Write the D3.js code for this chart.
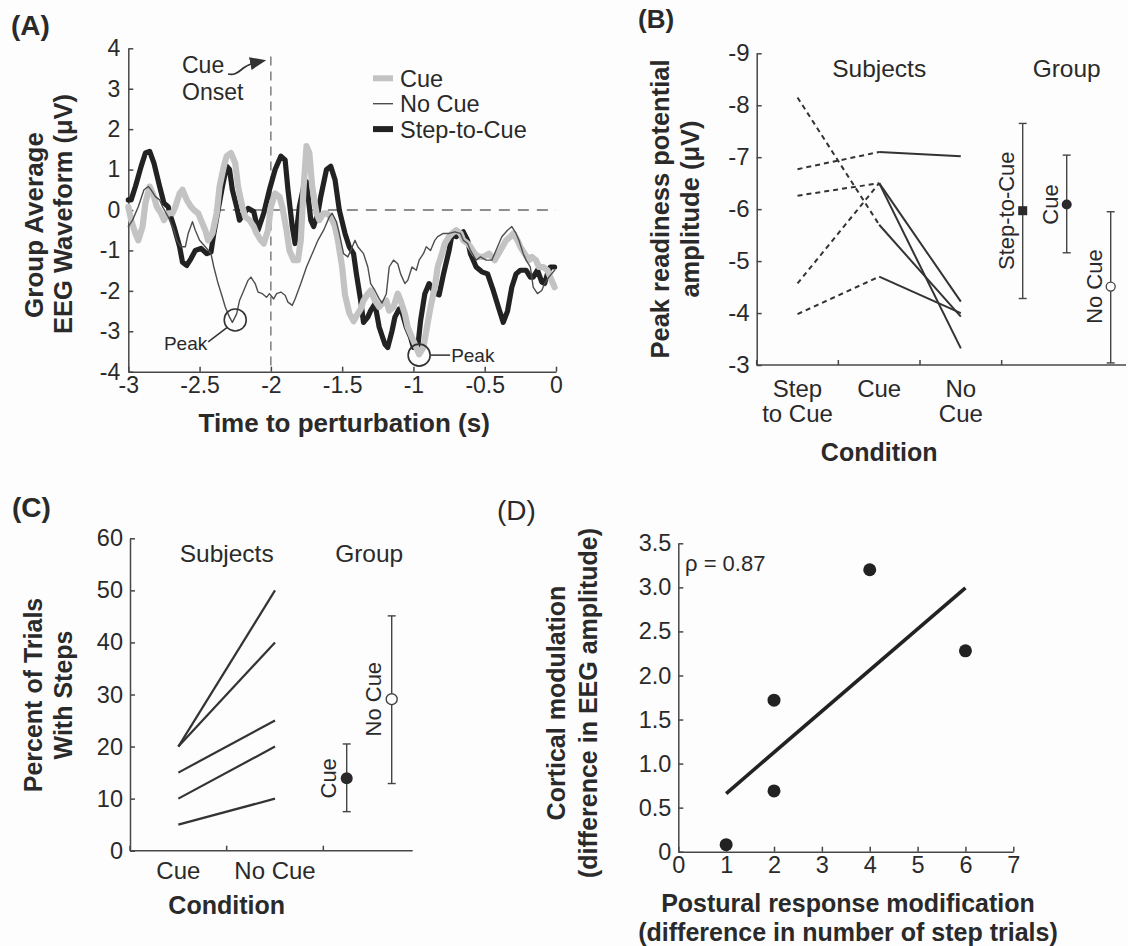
<!DOCTYPE html>
<html>
<head>
<meta charset="utf-8">
<script src="https://cdn.jsdelivr.net/npm/d3@7"></script>
<style>
  html, body { margin: 0; padding: 0; background: #fdfdfd; }
  svg { display: block; }
  text { font-family: 'Liberation Sans', Arial, Helvetica, sans-serif; }
</style>
</head>
<body>
<svg id="fig" width="1128" height="946"></svg>
<script>
// ---------- Panel A: group-average EEG waveforms (µV) vs time to perturbation (s) ----------
const timeTicks = [-3, -2.5, -2, -1.5, -1, -0.5, 0];
const eegTicks = [4, 3, 2, 1, 0, -1, -2, -3, -4];

const cueTime = [-3.00,-2.98,-2.95,-2.93,-2.90,-2.88,-2.85,-2.82,-2.80,-2.77,-2.75,-2.72,-2.69,-2.67,-2.64,-2.62,-2.59,-2.56,-2.54,-2.51,-2.49,-2.46,-2.44,-2.41,-2.38,-2.36,-2.33,-2.31,-2.28,-2.25,-2.23,-2.20,-2.18,-2.15,-2.12,-2.10,-2.07,-2.05,-2.02,-2.00,-1.97,-1.94,-1.92,-1.89,-1.87,-1.84,-1.81,-1.79,-1.77,-1.75,-1.73,-1.71,-1.68,-1.66,-1.63,-1.61,-1.58,-1.55,-1.53,-1.50,-1.48,-1.45,-1.42,-1.40,-1.37,-1.35,-1.32,-1.30,-1.27,-1.24,-1.22,-1.19,-1.17,-1.14,-1.11,-1.09,-1.06,-1.04,-1.01,-0.98,-0.96,-0.93,-0.91,-0.88,-0.85,-0.83,-0.80,-0.78,-0.75,-0.73,-0.70,-0.67,-0.65,-0.62,-0.60,-0.57,-0.54,-0.51,-0.47,-0.43,-0.39,-0.35,-0.32,-0.30,-0.27,-0.25,-0.22,-0.19,-0.17,-0.14,-0.12,-0.09,-0.06,-0.04,-0.01];
const cueEEG = [0.08,-0.25,-0.58,-0.75,-0.41,0.17,0.58,0.33,0.08,-0.08,-0.25,-0.08,-0.08,0.08,0.41,0.50,0.25,0.08,0.00,-0.08,-0.25,-0.50,-0.75,-0.58,-0.08,0.58,1.08,1.33,1.41,1.16,0.58,0.08,-0.17,-0.25,-0.41,-0.58,-0.75,-0.83,-0.50,0.08,0.41,0.33,0.08,-0.50,-1.00,-1.24,-1.24,-0.75,0.58,1.58,1.41,0.58,-0.08,-0.25,-0.08,-0.08,-0.17,-0.41,-0.75,-1.41,-2.10,-2.55,-2.75,-2.62,-2.45,-2.24,-2.07,-1.99,-2.24,-2.40,-2.32,-2.24,-2.49,-2.40,-2.07,-2.24,-2.57,-2.90,-3.15,-3.40,-3.57,-3.40,-2.99,-2.40,-1.91,-1.41,-1.08,-0.83,-0.66,-0.58,-0.50,-0.58,-0.75,-0.83,-0.91,-1.08,-1.16,-1.16,-1.08,-1.24,-1.00,-0.75,-0.66,-0.58,-0.75,-0.91,-1.08,-1.24,-1.16,-1.24,-1.41,-1.41,-1.49,-1.66,-1.91];

const noCueTime = [-3.00,-2.97,-2.93,-2.89,-2.86,-2.84,-2.81,-2.78,-2.76,-2.72,-2.68,-2.66,-2.63,-2.60,-2.58,-2.55,-2.53,-2.50,-2.46,-2.42,-2.40,-2.37,-2.34,-2.32,-2.29,-2.27,-2.24,-2.22,-2.19,-2.16,-2.14,-2.11,-2.09,-2.06,-2.03,-2.01,-1.98,-1.96,-1.93,-1.90,-1.88,-1.85,-1.83,-1.79,-1.75,-1.71,-1.67,-1.63,-1.59,-1.57,-1.54,-1.52,-1.49,-1.46,-1.44,-1.41,-1.39,-1.35,-1.32,-1.30,-1.27,-1.24,-1.22,-1.19,-1.17,-1.14,-1.11,-1.09,-1.06,-1.04,-1.01,-0.98,-0.96,-0.93,-0.91,-0.88,-0.85,-0.83,-0.79,-0.75,-0.71,-0.67,-0.65,-0.62,-0.60,-0.56,-0.53,-0.49,-0.45,-0.41,-0.38,-0.34,-0.31,-0.28,-0.26,-0.23,-0.21,-0.18,-0.16,-0.13,-0.10,-0.08,-0.05,-0.01];
const noCueEEG = [-0.41,-0.25,0.08,0.50,0.58,0.50,0.33,0.25,0.08,-0.17,-0.50,-0.75,-0.91,-0.91,-0.58,-0.29,-0.50,-0.75,-0.91,-1.08,-1.41,-1.82,-2.16,-2.40,-2.65,-2.78,-2.57,-2.24,-1.99,-1.74,-1.66,-1.82,-2.03,-2.07,-2.16,-2.07,-2.20,-2.07,-2.03,-2.11,-2.28,-2.36,-2.20,-1.82,-1.41,-1.08,-0.75,-0.50,-0.17,-0.08,-0.29,-0.58,-1.08,-1.16,-1.00,-0.75,-0.91,-1.08,-1.41,-1.82,-1.99,-2.20,-2.30,-2.07,-1.41,-1.24,-1.33,-1.58,-1.82,-1.74,-1.41,-1.49,-1.24,-1.08,-0.91,-1.00,-0.75,-0.66,-0.58,-0.58,-0.54,-0.58,-0.75,-0.83,-1.00,-1.24,-1.16,-1.24,-1.24,-0.91,-0.66,-0.50,-0.41,-0.58,-0.75,-1.08,-1.24,-1.41,-1.91,-2.07,-1.99,-1.82,-1.66,-1.49];

const stepTime = [-3.00,-2.98,-2.95,-2.91,-2.88,-2.85,-2.82,-2.78,-2.75,-2.72,-2.71,-2.68,-2.64,-2.62,-2.59,-2.56,-2.53,-2.49,-2.45,-2.42,-2.40,-2.34,-2.31,-2.29,-2.27,-2.24,-2.22,-2.19,-2.16,-2.12,-2.09,-2.05,-2.01,-1.97,-1.93,-1.90,-1.88,-1.85,-1.83,-1.80,-1.77,-1.75,-1.72,-1.70,-1.67,-1.65,-1.61,-1.58,-1.55,-1.52,-1.48,-1.45,-1.42,-1.40,-1.37,-1.35,-1.32,-1.30,-1.27,-1.24,-1.20,-1.18,-1.15,-1.13,-1.10,-1.08,-1.05,-1.02,-1.00,-0.97,-0.95,-0.92,-0.89,-0.85,-0.82,-0.79,-0.75,-0.73,-0.70,-0.67,-0.65,-0.62,-0.60,-0.56,-0.52,-0.48,-0.44,-0.40,-0.37,-0.34,-0.31,-0.28,-0.25,-0.21,-0.18,-0.16,-0.13,-0.10,-0.08,-0.06,-0.04,-0.01];
const stepEEG = [0.25,0.25,0.58,1.08,1.41,1.45,1.16,0.58,0.17,0.08,-0.08,-0.41,-0.91,-1.29,-1.37,-1.20,-1.00,-0.95,-1.08,-1.04,-0.58,0.58,1.08,1.00,0.50,0.08,-0.25,-0.08,0.04,-0.04,-0.50,-0.08,0.50,1.00,1.33,1.24,0.50,-0.41,-0.83,0.08,0.58,0.70,-0.25,-0.41,-0.08,0.33,1.00,1.08,0.75,0.00,-0.58,-0.91,-1.08,-1.58,-2.24,-2.78,-2.65,-2.49,-2.32,-2.90,-3.32,-3.40,-2.99,-2.65,-2.45,-2.53,-2.90,-3.15,-3.40,-3.40,-2.74,-2.07,-1.82,-2.05,-2.10,-1.60,-1.00,-0.62,-0.66,-0.58,-0.54,-0.75,-1.08,-1.41,-1.53,-1.58,-1.99,-2.45,-2.78,-2.50,-1.91,-1.58,-1.49,-1.49,-1.66,-1.66,-1.49,-1.78,-1.82,-1.58,-1.41,-1.41];

const eegLegend = ["Cue", "No Cue", "Step-to-Cue"];
const peakTimes = [-2.25, -0.96];
const peakValues = [-2.72, -3.59];

// ---------- Panel B: peak readiness potential amplitude (µV) ----------
const rpConditions = ["Step to Cue", "Cue", "No Cue", "Group"];
const rpConditionLines = [["Step", "to Cue"], ["Cue"], ["No", "Cue"]];
const rpTicks = [-9, -8, -7, -6, -5, -4, -3];
const rpStepToCue = [-8.15, -6.77, -6.26, -4.57, -3.98];
const rpCue = [-5.70, -7.10, -6.50, -6.50, -4.70];
const rpNoCue = [-3.93, -7.02, -4.22, -3.32, -4.00];
const rpGroupLabels = ["Step-to-Cue", "Cue", "No Cue"];
const rpGroupMean = [-5.97, -6.09, -4.51];
const rpGroupTop = [-7.65, -7.04, -5.95];
const rpGroupBottom = [-4.28, -5.16, -3.04];

// ---------- Panel C: percent of trials with steps ----------
const stConditions = ["Cue", "No Cue", "Group"];
const stTicks = [0, 10, 20, 30, 40, 50, 60];
const stCue = [20, 20, 15, 10, 5];
const stNoCue = [50, 40, 25, 20, 10];
const stGroupLabels = ["Cue", "No Cue"];
const stGroupMean = [13.9, 29.1];
const stGroupLow = [7.5, 12.9];
const stGroupHigh = [20.5, 45.1];

// ---------- Panel D: cortical modulation vs postural response modification ----------
const modTicksX = [0, 1, 2, 3, 4, 5, 6, 7];
const modTicksY = [0, 0.5, 1, 1.5, 2, 2.5, 3, 3.5];
const stepTrialDiff = [1, 2, 2, 4, 6];
const eegAmpDiff = [0.08, 1.72, 0.69, 3.20, 2.28];
const rhoLabel = "\u03C1 = 0.87";

// ---------- drawing ----------
const INK = "#2a2a2a", AXIS = "#474747";
const svg = d3.select("#fig");
svg.append("rect").attr("width", 1128).attr("height", 946).attr("fill", "#fdfdfd");

function addText(parent, s, x, y, o = {}) {
  const t = parent.append("text")
    .attr("x", x).attr("y", y)
    .attr("font-size", o.size || 23)
    .attr("font-weight", o.weight || "normal")
    .attr("text-anchor", o.anchor || "start")
    .attr("fill", o.fill || INK)
    .text(s);
  if (o.rotate) t.attr("transform", `rotate(${o.rotate},${x},${y})`);
  if (o.dy) t.attr("dy", o.dy);
  return t;
}
function styleAxis(sel, size) {
  sel.attr("font-family", null).attr("font-size", null);
  sel.selectAll(".domain, .tick line").attr("stroke", AXIS).attr("stroke-width", 1.5);
  sel.selectAll(".tick text").attr("fill", INK).attr("font-size", size);
}
const plain = d => String(d);

// ===== Panel A =====
const gA = svg.append("g");
const xA = d3.scaleLinear().domain([-3, 0]).range([128.3, 556]);
const yA = d3.scaleLinear().domain([-4, 4]).range([371.7, 48.3]);

gA.append("g").attr("transform", `translate(${xA(-3)},0)`)
  .call(d3.axisLeft(yA).tickValues(eegTicks).tickSize(-5).tickSizeOuter(0).tickPadding(8).tickFormat(plain))
  .call(s => styleAxis(s, 23));
gA.append("g").attr("transform", `translate(0,${yA(-4)})`)
  .call(d3.axisBottom(xA).tickValues(timeTicks).tickSize(-5).tickSizeOuter(0).tickPadding(5).tickFormat(plain))
  .call(s => styleAxis(s, 23));

// reference lines: cue onset and zero level
gA.append("line").attr("x1", xA(-2)).attr("x2", xA(-2)).attr("y1", yA(3.8)).attr("y2", yA(-4))
  .attr("stroke", "#6a6a6a").attr("stroke-width", 1.3).attr("stroke-dasharray", "9,6");
gA.append("line").attr("x1", xA(-2.4)).attr("x2", xA(0)).attr("y1", yA(0)).attr("y2", yA(0))
  .attr("stroke", "#6a6a6a").attr("stroke-width", 1.3).attr("stroke-dasharray", "11,8");

const lineA = d3.line().x(d => xA(d[0])).y(d => yA(d[1]));
const zip = (a, b) => a.map((t, i) => [t, b[i]]);
const seriesA = [
  { name: "Step-to-Cue", pts: zip(stepTime, stepEEG), color: "#222", width: 5.2 },
  { name: "Cue", pts: zip(cueTime, cueEEG), color: "#c3c3c3", width: 6.2 },
  { name: "No Cue", pts: zip(noCueTime, noCueEEG), color: "#4d4d4d", width: 1.4 }
];
seriesA.forEach(s => {
  gA.append("path").datum(s.pts).attr("d", lineA)
    .attr("fill", "none").attr("stroke", s.color).attr("stroke-width", s.width)
    .attr("stroke-linejoin", "round").attr("stroke-linecap", "round");
});

// legend
const legendStyle = { "Cue": ["#c3c3c3", 6], "No Cue": ["#4d4d4d", 1.4], "Step-to-Cue": ["#222", 6] };
eegLegend.forEach((name, i) => {
  const y = 78.3 + i * 25.4;
  gA.append("line").attr("x1", 373).attr("x2", 393).attr("y1", y).attr("y2", y)
    .attr("stroke", legendStyle[name][0]).attr("stroke-width", legendStyle[name][1]);
  addText(gA, name, 400, y, { size: 23.5, dy: "0.36em" });
});

// cue onset annotation
addText(gA, "Cue", 182, 65, { size: 23, dy: "0.36em" });
addText(gA, "Onset", 182, 91.5, { size: 23, dy: "0.36em" });
svg.append("defs").append("marker").attr("id", "arrowhead")
  .attr("viewBox", "0 0 10 10").attr("refX", 8).attr("refY", 5)
  .attr("markerWidth", 9).attr("markerHeight", 9).attr("orient", "auto")
  .append("path").attr("d", "M0,1 L10,5 L0,9 Z").attr("fill", "#333");
gA.append("path").attr("d", "M228,74 C236,76 240,70 245,67 C249,64 253,63 263,61")
  .attr("fill", "none").attr("stroke", "#333").attr("stroke-width", 1.8)
  .attr("marker-end", "url(#arrowhead)");

// peak markers
peakTimes.forEach((t, i) => {
  const cx = xA(t), cy = yA(peakValues[i]);
  gA.append("circle").attr("cx", cx).attr("cy", cy).attr("r", 11)
    .attr("fill", "none").attr("stroke", "#333").attr("stroke-width", 1.6);
  if (i === 0) {
    gA.append("line").attr("x1", cx - 8).attr("y1", cy + 7.5).attr("x2", cx - 27).attr("y2", cy + 22)
      .attr("stroke", "#333").attr("stroke-width", 1.5);
    addText(gA, "Peak", cx - 28, cy + 23, { size: 19, anchor: "end", dy: "0.36em" });
  } else {
    gA.append("line").attr("x1", cx + 11).attr("y1", cy).attr("x2", cx + 31).attr("y2", cy)
      .attr("stroke", "#333").attr("stroke-width", 1.5);
    addText(gA, "Peak", cx + 32, cy, { size: 19, dy: "0.36em" });
  }
});

addText(gA, "(A)", 11, 25, { size: 28, weight: "bold", dy: "0.36em" });
addText(gA, "Time to perturbation (s)", (xA(-3) + xA(0)) / 2 + 2, 423, { size: 26, weight: "bold", anchor: "middle", dy: "0.36em" });
addText(gA, "Group Average", 34, 225, { size: 26, weight: "bold", anchor: "middle", rotate: -90, dy: "0.36em" });
addText(gA, "EEG Waveform (\u03BCV)", 63, 214, { size: 25.5, weight: "bold", anchor: "middle", rotate: -90, dy: "0.36em" });

// ===== Panel B =====
const gB = svg.append("g");
const xB = d3.scaleBand().domain(rpConditions).range([756.7, 1083.3]).padding(0);
const yB = d3.scaleLinear().domain([-9, -3]).range([53.3, 365]);
const gxB = d3.scalePoint().domain(rpGroupLabels).range([1022.7, 1110.7]);
const cB = c => xB(c) + xB.bandwidth() / 2;

gB.append("g").attr("transform", `translate(${xB.range()[0]},0)`)
  .call(d3.axisLeft(yB).tickValues(rpTicks).tickSize(-5).tickSizeOuter(0).tickPadding(7).tickFormat(plain))
  .call(s => styleAxis(s, 24));
gB.append("line").attr("x1", xB.range()[0]).attr("x2", 1126).attr("y1", yB(-3)).attr("y2", yB(-3))
  .attr("stroke", AXIS).attr("stroke-width", 1.5);
rpConditions.forEach(c => {
  gB.append("line").attr("x1", xB(c)).attr("x2", xB(c)).attr("y1", yB(-3)).attr("y2", yB(-3) - 5)
    .attr("stroke", AXIS).attr("stroke-width", 1.5);
});

// subject lines: dashed Step-to-Cue -> Cue, solid Cue -> No Cue
rpStepToCue.forEach((v, i) => {
  gB.append("line").attr("x1", cB("Step to Cue")).attr("y1", yB(v)).attr("x2", cB("Cue")).attr("y2", yB(rpCue[i]))
    .attr("stroke", "#333").attr("stroke-width", 2).attr("stroke-dasharray", "5,4");
  gB.append("line").attr("x1", cB("Cue")).attr("y1", yB(rpCue[i])).attr("x2", cB("No Cue")).attr("y2", yB(rpNoCue[i]))
    .attr("stroke", "#333").attr("stroke-width", 2);
});

// group means with error bars
rpGroupLabels.forEach((lab, i) => {
  const x = gxB(lab);
  gB.append("line").attr("x1", x).attr("x2", x).attr("y1", yB(rpGroupTop[i])).attr("y2", yB(rpGroupBottom[i]))
    .attr("stroke", "#444").attr("stroke-width", 1.4);
  [rpGroupTop[i], rpGroupBottom[i]].forEach(v => {
    gB.append("line").attr("x1", x - 4).attr("x2", x + 4).attr("y1", yB(v)).attr("y2", yB(v))
      .attr("stroke", "#444").attr("stroke-width", 1.4);
  });
  const y = yB(rpGroupMean[i]);
  if (lab === "Step-to-Cue") {
    gB.append("rect").attr("x", x - 4.5).attr("y", y - 4.5).attr("width", 9).attr("height", 9).attr("fill", "#2a2a2a");
  } else if (lab === "Cue") {
    gB.append("circle").attr("cx", x).attr("cy", y).attr("r", 5).attr("fill", "#2a2a2a");
  } else {
    gB.append("circle").attr("cx", x).attr("cy", y).attr("r", 4.5).attr("fill", "#fdfdfd").attr("stroke", "#444").attr("stroke-width", 1.3);
  }
  addText(gB, lab, x - 17, y, { size: 22, anchor: "middle", rotate: -90, dy: "0.36em" });
});

rpConditionLines.forEach((lines, i) => {
  lines.forEach((s, j) => addText(gB, s, cB(rpConditions[i]), 388.3 + j * 25, { size: 24, anchor: "middle", dy: "0.36em" }));
});
addText(gB, "Subjects", cB("Cue"), 68.3, { size: 24.5, anchor: "middle", dy: "0.36em" });
addText(gB, "Group", (gxB.range()[0] + gxB.range()[1]) / 2, 68.3, { size: 24.5, anchor: "middle", dy: "0.36em" });
addText(gB, "Condition", cB("Cue"), 452, { size: 25, weight: "bold", anchor: "middle", dy: "0.36em" });
addText(gB, "(B)", 638, 19, { size: 26, weight: "bold", dy: "0.36em" });
addText(gB, "Peak readiness potential", 660, 209, { size: 25.5, weight: "bold", anchor: "middle", rotate: -90, dy: "0.36em" });
addText(gB, "amplitude (\u03BCV)", 689.5, 209, { size: 25.5, weight: "bold", anchor: "middle", rotate: -90, dy: "0.36em" });

// ===== Panel C =====
const gC = svg.append("g");
const xC = d3.scaleBand().domain(stConditions).range([130, 420]).padding(0);
const yC = d3.scaleLinear().domain([0, 60]).range([850.7, 538.3]);
const gxC = d3.scalePoint().domain(stGroupLabels).range([346.7, 391.7]);
const cC = c => xC(c) + xC.bandwidth() / 2;

gC.append("g").attr("transform", `translate(${xC.range()[0]},0)`)
  .call(d3.axisLeft(yC).tickValues(stTicks).tickSize(-5).tickSizeOuter(0).tickPadding(7).tickFormat(plain))
  .call(s => styleAxis(s, 23.5));
gC.append("line").attr("x1", xC.range()[0]).attr("x2", 412.7).attr("y1", yC(0)).attr("y2", yC(0))
  .attr("stroke", AXIS).attr("stroke-width", 1.5);
stConditions.forEach(c => {
  gC.append("line").attr("x1", xC(c)).attr("x2", xC(c)).attr("y1", yC(0)).attr("y2", yC(0) - 5)
    .attr("stroke", AXIS).attr("stroke-width", 1.5);
});
stCue.forEach((v, i) => {
  gC.append("line").attr("x1", cC("Cue")).attr("y1", yC(v)).attr("x2", cC("No Cue")).attr("y2", yC(stNoCue[i]))
    .attr("stroke", "#333").attr("stroke-width", 2.2);
});
stGroupLabels.forEach((lab, i) => {
  const x = gxC(lab);
  gC.append("line").attr("x1", x).attr("x2", x).attr("y1", yC(stGroupHigh[i])).attr("y2", yC(stGroupLow[i]))
    .attr("stroke", "#444").attr("stroke-width", 1.4);
  [stGroupHigh[i], stGroupLow[i]].forEach(v => {
    gC.append("line").attr("x1", x - 4).attr("x2", x + 4).attr("y1", yC(v)).attr("y2", yC(v))
      .attr("stroke", "#444").attr("stroke-width", 1.4);
  });
  const y = yC(stGroupMean[i]);
  if (lab === "Cue") {
    gC.append("circle").attr("cx", x).attr("cy", y).attr("r", 6).attr("fill", "#2a2a2a");
  } else {
    gC.append("circle").attr("cx", x).attr("cy", y).attr("r", 5.5).attr("fill", "#fdfdfd").attr("stroke", "#444").attr("stroke-width", 1.4);
  }
  addText(gC, lab, x - 19, y, { size: 22, anchor: "middle", rotate: -90, dy: "0.36em" });
});
["Cue", "No Cue"].forEach(c => addText(gC, c, cC(c), 870, { size: 24, anchor: "middle", dy: "0.36em" }));
addText(gC, "Subjects", (cC("Cue") + cC("No Cue")) / 2, 553, { size: 24.5, anchor: "middle", dy: "0.36em" });
addText(gC, "Group", (gxC.range()[0] + gxC.range()[1]) / 2, 553, { size: 24.5, anchor: "middle", dy: "0.36em" });
addText(gC, "Condition", (cC("Cue") + cC("No Cue")) / 2, 905, { size: 25, weight: "bold", anchor: "middle", dy: "0.36em" });
addText(gC, "(C)", 12, 507, { size: 28, weight: "bold", dy: "0.36em" });
addText(gC, "Percent of Trials", 33, 695, { size: 25, weight: "bold", anchor: "middle", rotate: -90, dy: "0.36em" });
addText(gC, "With Steps", 63, 695, { size: 25, weight: "bold", anchor: "middle", rotate: -90, dy: "0.36em" });

// ===== Panel D =====
const gD = svg.append("g");
const xD = d3.scaleLinear().domain([0, 7]).range([678.3, 1013.3]);
const yD = d3.scaleLinear().domain([0, 3.5]).range([851.7, 543.3]);

gD.append("g").attr("transform", `translate(${xD(0)},0)`)
  .call(d3.axisLeft(yD).tickValues(modTicksY).tickSize(-5).tickSizeOuter(0).tickPadding(7)
    .tickFormat(d => d === 0 ? "0" : d.toFixed(1)))
  .call(s => styleAxis(s, 23.5));
gD.append("g").attr("transform", `translate(0,${yD(0)})`)
  .call(d3.axisBottom(xD).tickValues(modTicksX).tickSize(-5).tickSizeOuter(0).tickPadding(5).tickFormat(plain))
  .call(s => styleAxis(s, 23.5));

// least-squares fit through the subject points
const mx = d3.mean(stepTrialDiff), my = d3.mean(eegAmpDiff);
const slope = d3.sum(stepTrialDiff, (x, i) => (x - mx) * (eegAmpDiff[i] - my)) / d3.sum(stepTrialDiff, x => (x - mx) ** 2);
const icpt = my - slope * mx;
const [fx0, fx1] = d3.extent(stepTrialDiff);
gD.append("line").attr("x1", xD(fx0)).attr("y1", yD(icpt + slope * fx0)).attr("x2", xD(fx1)).attr("y2", yD(icpt + slope * fx1))
  .attr("stroke", "#222").attr("stroke-width", 3.6);
stepTrialDiff.forEach((x, i) => {
  gD.append("circle").attr("cx", xD(x)).attr("cy", yD(eegAmpDiff[i])).attr("r", 6.5).attr("fill", "#222");
});
addText(gD, rhoLabel, 685, 563, { size: 22, dy: "0.36em" });
addText(gD, "(D)", 497, 510, { size: 28, dy: "0.36em" });
addText(gD, "Postural response modification", 848, 903, { size: 25, weight: "bold", anchor: "middle", dy: "0.36em" });
addText(gD, "(difference in number of step trials)", 848, 932, { size: 25, weight: "bold", anchor: "middle", dy: "0.36em" });
addText(gD, "Cortical modulation", 556, 703, { size: 25, weight: "bold", anchor: "middle", rotate: -90, dy: "0.36em" });
addText(gD, "(difference in EEG amplitude)", 587.5, 703, { size: 25, weight: "bold", anchor: "middle", rotate: -90, dy: "0.36em" });
</script>
</body>
</html>
